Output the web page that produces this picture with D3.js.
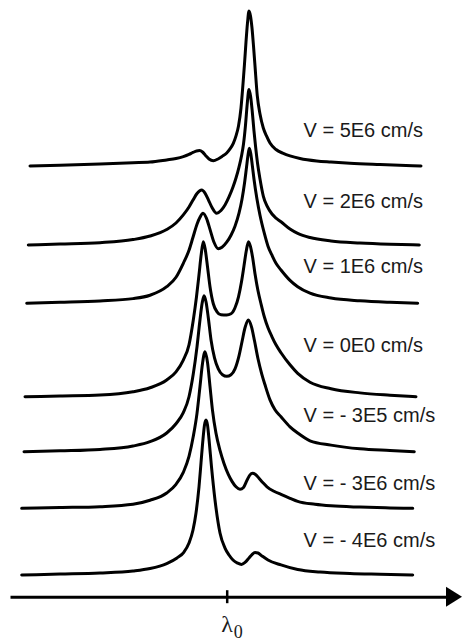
<!DOCTYPE html>
<html>
<head>
<meta charset="utf-8">
<script src="https://cdn.jsdelivr.net/npm/d3@7/dist/d3.min.js"></script>
<style>
  html, body { margin: 0; padding: 0; background: #fff; }
  svg { display: block; }
</style>
</head>
<body>
<svg id="chart" width="462" height="641"></svg>
<script>
// Emission line profiles for several flow velocities, stacked as a waterfall.
// x: wavelength offset from the line centre λ0 (arbitrary units)
// y: relative intensity, strongest peak of each profile = 100

const velocityLabels = [
  "V = 5E6 cm/s", "V = 2E6 cm/s", "V = 1E6 cm/s", "V = 0E0 cm/s",
  "V = - 3E5 cm/s", "V = - 3E6 cm/s", "V = - 4E6 cm/s"
];

// vertical waterfall offset of each profile (intensity units)
const offsets = [263.9, 212.9, 175.3, 115.0, 79.5, 43.0, 0];

const profileV5E6 = [
  [-1.967, 0], [-1.667, 0.5], [-1.267, 1.3], [-0.937, 2.1], [-0.767, 2.5],
  [-0.600, 3.9], [-0.507, 4.8], [-0.434, 6.0], [-0.377, 7.4], [-0.337, 8.7],
  [-0.302, 9.7], [-0.272, 9.9], [-0.242, 9.0], [-0.212, 6.8], [-0.177, 4.5],
  [-0.134, 3.4], [-0.087, 4.5], [-0.047, 6.1], [0.000, 8.4], [0.033, 11.0],
  [0.066, 14.6], [0.093, 19.4], [0.118, 25.8], [0.143, 37.4], [0.163, 52.9],
  [0.178, 65.8], [0.193, 80.0], [0.208, 92.3], [0.223, 100], [0.238, 96.8],
  [0.253, 89.0], [0.268, 77.4], [0.283, 64.5], [0.306, 45.2], [0.333, 33.5],
  [0.366, 24.5], [0.398, 19.4], [0.433, 14.8], [0.493, 10.6], [0.566, 8.1],
  [0.633, 6.5], [0.733, 4.8], [0.900, 3.2], [1.043, 2.5], [1.233, 1.7],
  [1.533, 0.9], [1.943, 0]
];

const profileV2E6 = [
  [-1.984, 0], [-1.667, 0.6], [-1.267, 1.5], [-0.937, 3.5], [-0.767, 5.8],
  [-0.600, 10.0], [-0.507, 14.2], [-0.434, 19.4], [-0.377, 24.5], [-0.337, 29.0],
  [-0.297, 33.2], [-0.250, 35.5], [-0.217, 33.5], [-0.182, 29.0], [-0.147, 24.2],
  [-0.100, 20.5], [-0.057, 22.3], [-0.017, 25.8], [0.023, 31.0], [0.063, 37.4],
  [0.093, 43.2], [0.123, 50.3], [0.148, 57.4], [0.168, 65.2], [0.188, 77.4],
  [0.206, 91.6], [0.223, 100.3], [0.240, 95.5], [0.256, 85.8], [0.273, 73.5],
  [0.288, 63.9], [0.308, 52.9], [0.333, 42.6], [0.366, 31.6], [0.403, 25.2],
  [0.453, 20.0], [0.493, 17.4], [0.543, 15.0], [0.633, 10.3], [0.710, 7.5],
  [0.833, 4.8], [1.043, 2.6], [1.333, 1.3], [1.633, 0.5], [1.926, 0]
];

const profileV1E6 = [
  [-2.000, 0], [-1.667, 0.6], [-1.267, 1.5], [-0.937, 3.0], [-0.767, 5.2],
  [-0.600, 10.7], [-0.507, 16.8], [-0.434, 25.8], [-0.377, 34.2], [-0.337, 42.6],
  [-0.297, 51.0], [-0.267, 55.5], [-0.237, 58.1], [-0.202, 54.8], [-0.167, 47.7],
  [-0.127, 39.4], [-0.084, 35.2], [-0.047, 36.1], [0.000, 39.4], [0.043, 43.9],
  [0.083, 49.7], [0.123, 58.1], [0.153, 67.1], [0.178, 77.4], [0.198, 87.7],
  [0.213, 95.5], [0.226, 100], [0.240, 96.8], [0.256, 89.0], [0.273, 80.0],
  [0.303, 67.1], [0.333, 56.8], [0.376, 45.2], [0.413, 36.8], [0.453, 31.0],
  [0.493, 25.8], [0.543, 21.5], [0.633, 14.8], [0.710, 10.7], [0.833, 6.5],
  [1.043, 3.4], [1.333, 1.6], [1.633, 0.6], [1.910, 0]
];

const profileV0 = [
  [-2.017, 0], [-1.667, 0.5], [-1.267, 1.1], [-0.937, 3.2], [-0.767, 5.8],
  [-0.600, 10.8], [-0.507, 16.1], [-0.434, 23.7], [-0.377, 33.5], [-0.334, 49.5],
  [-0.302, 64.5], [-0.277, 78.7], [-0.254, 92.3], [-0.234, 100], [-0.214, 94.8],
  [-0.192, 83.9], [-0.167, 71.0], [-0.134, 60.0], [-0.097, 54.8], [-0.057, 52.9],
  [0.000, 52.7], [0.043, 53.5], [0.083, 57.4], [0.118, 64.5], [0.148, 74.2],
  [0.173, 84.5], [0.196, 94.2], [0.218, 100], [0.238, 96.8], [0.258, 90.3],
  [0.283, 79.4], [0.313, 68.4], [0.343, 60.0], [0.376, 51.6], [0.413, 44.5],
  [0.453, 38.7], [0.493, 33.5], [0.543, 28.4], [0.633, 20.6], [0.710, 15.1],
  [0.833, 9.4], [1.043, 5.2], [1.333, 2.5], [1.633, 1.0], [1.893, 0]
];

const profileVm3E5 = [
  [-2.027, 0], [-1.667, 0.6], [-1.267, 1.5], [-0.937, 3.7], [-0.767, 6.5],
  [-0.600, 12.1], [-0.507, 18.1], [-0.434, 25.2], [-0.377, 35.5], [-0.334, 50.3],
  [-0.297, 67.7], [-0.267, 85.2], [-0.245, 96.1], [-0.227, 100.6], [-0.207, 96.8],
  [-0.184, 86.5], [-0.157, 72.3], [-0.122, 60.6], [-0.084, 53.5], [-0.042, 49.7],
  [0.000, 48.7], [0.043, 49.7], [0.083, 53.5], [0.123, 61.9], [0.153, 71.0],
  [0.183, 80.0], [0.216, 85.0], [0.248, 80.6], [0.278, 71.6], [0.313, 60.0],
  [0.350, 50.3], [0.383, 43.2], [0.433, 33.5], [0.483, 27.1], [0.543, 22.6],
  [0.633, 16.1], [0.710, 12.1], [0.833, 7.1], [1.043, 4.3], [1.333, 1.9],
  [1.633, 0.8], [1.876, 0]
];

const profileVm3E6 = [
  [-2.050, 0], [-1.667, 0.5], [-1.267, 1.1], [-0.937, 2.6], [-0.767, 5.2],
  [-0.600, 9.9], [-0.507, 15.5], [-0.434, 23.2], [-0.377, 33.5], [-0.334, 46.5],
  [-0.297, 61.3], [-0.267, 78.7], [-0.242, 93.5], [-0.217, 101.0], [-0.192, 94.2],
  [-0.167, 78.7], [-0.142, 63.2], [-0.107, 48.4], [-0.067, 37.4], [-0.027, 29.0],
  [0.016, 21.9], [0.053, 17.4], [0.093, 13.9], [0.133, 12.3], [0.168, 13.5],
  [0.203, 18.1], [0.233, 21.6], [0.258, 22.6], [0.288, 21.9], [0.323, 19.4],
  [0.363, 16.5], [0.403, 13.9], [0.473, 11.0], [0.543, 9.0], [0.633, 6.5],
  [0.710, 4.5], [0.883, 2.6], [1.043, 1.6], [1.333, 0.8], [1.633, 0.3],
  [1.860, 0]
];

const profileVm4E6 = [
  [-2.050, 0], [-1.667, 0.6], [-1.267, 1.3], [-0.937, 2.6], [-0.767, 4.2],
  [-0.600, 7.4], [-0.497, 11.0], [-0.427, 14.8], [-0.377, 20.6], [-0.337, 29.0],
  [-0.307, 40.0], [-0.277, 56.8], [-0.257, 72.3], [-0.237, 87.7], [-0.222, 96.8],
  [-0.207, 100], [-0.192, 96.8], [-0.177, 87.7], [-0.152, 69.7], [-0.117, 48.4],
  [-0.067, 27.1], [-0.017, 17.4], [0.023, 12.9], [0.063, 9.7], [0.108, 7.7],
  [0.148, 6.8], [0.183, 8.1], [0.223, 11.0], [0.253, 13.2], [0.283, 14.5],
  [0.313, 14.2], [0.353, 12.3], [0.413, 9.7], [0.543, 6.5], [0.710, 3.5],
  [0.933, 1.9], [1.233, 1.0], [1.533, 0.5], [1.860, 0]
];

const profiles = [profileV5E6, profileV2E6, profileV1E6, profileV0,
                  profileVm3E5, profileVm3E6, profileVm4E6];

const axisTicks = [0];

// ---- layout ----
const svg = d3.select("#chart");

const x = d3.scaleLinear().domain([-2, 2]).range([26.7, 426.7]);
const y = d3.scaleLinear().domain([0, 100]).range([575, 420]);

// label baselines (px), one per profile
const labelY = [136.7, 208.3, 272.7, 352.3, 422.3, 490, 547.3];
const labelX = 303.5;

const line = d3.line()
  .x(d => x(d[0]))
  .curve(d3.curveMonotoneX);

const g = svg.append("g");

profiles.forEach((p, i) => {
  g.append("path")
    .datum(p)
    .attr("fill", "none")
    .attr("stroke", "#000")
    .attr("stroke-width", 3)
    .attr("stroke-linejoin", "round")
    .attr("stroke-linecap", "round")
    .attr("d", line.y(d => y(d[1] + offsets[i])));
});

svg.append("g")
  .selectAll("text")
  .data(velocityLabels)
  .join("text")
  .attr("x", labelX)
  .attr("y", (d, i) => labelY[i])
  .attr("font-family", "'Liberation Sans', Arial, sans-serif")
  .attr("font-size", 20)
  .attr("fill", "#1a1a1a")
  .text(d => d);

// ---- wavelength axis with arrow ----
const axisY = 596.7;
const axisScale = x.copy().domain([x.invert(10), x.invert(450)]).range([10, 450]);

const axis = d3.axisBottom(axisScale)
  .tickValues(axisTicks)
  .tickSizeOuter(0)
  .tickSizeInner(6.5)
  .tickFormat("");

const ax = svg.append("g")
  .attr("transform", `translate(0,${axisY})`)
  .call(axis);

ax.select(".domain").attr("stroke", "#000").attr("stroke-width", 3);
ax.selectAll(".tick line")
  .attr("stroke", "#000")
  .attr("stroke-width", 2.5)
  .attr("y1", -6.5)
  .attr("y2", 6.5);

// arrow head at the end of the axis
svg.append("path")
  .attr("d", `M446,${axisY - 10}L462,${axisY}L446,${axisY + 10}Z`)
  .attr("fill", "#000");

// λ0 label under the tick
const lam = svg.append("text")
  .attr("x", axisScale(axisTicks[0]) - 5.5)
  .attr("y", 632)
  .attr("font-family", "'Liberation Serif', 'Times New Roman', serif")
  .attr("font-size", 24)
  .attr("fill", "#1a1a1a");
lam.append("tspan").text("λ");
lam.append("tspan")
  .attr("font-size", 18)
  .attr("dy", 6)
  .attr("dx", 1)
  .text("0");
</script>
</body>
</html>
